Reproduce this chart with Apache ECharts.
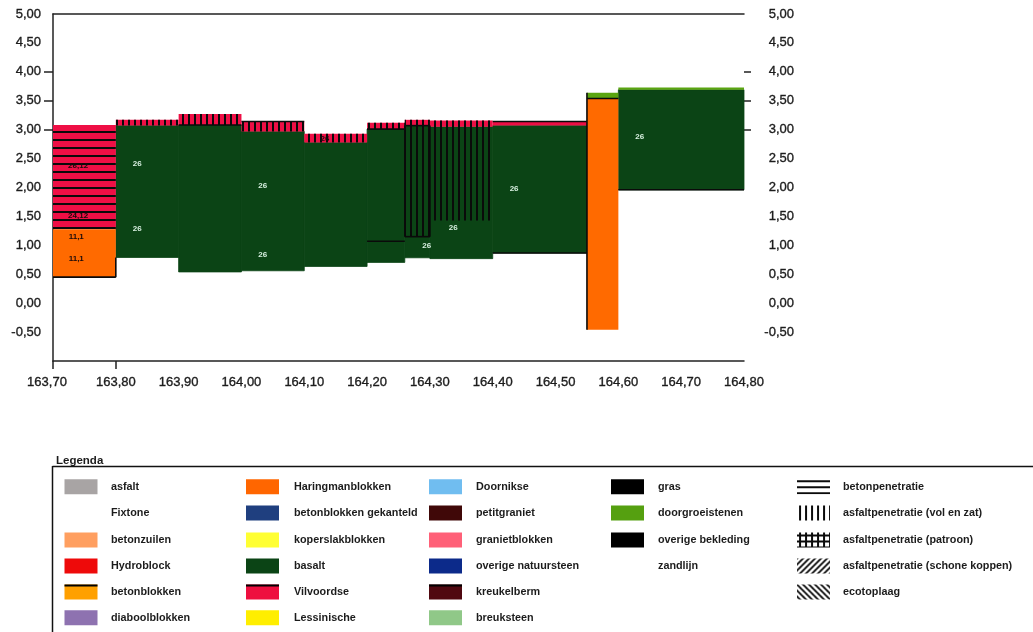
<!DOCTYPE html>
<html><head><meta charset="utf-8">
<style>html,body{margin:0;padding:0;background:#fff}#c{width:1033px;height:632px}</style>
<script src="https://cdn.jsdelivr.net/npm/echarts@6/dist/echarts.min.js"></script>
</head><body><div id="c"></div>
<script>
// ---------- data: [from km, to km, lower level, upper level]
const basalt = [
  [163.80,163.90,0.79,3.07],[163.90,164.00,0.54,3.08],[164.00,164.10,0.56,2.97],
  [164.10,164.20,0.635,2.78],[164.20,164.26,0.705,3.01],[164.26,164.30,0.785,3.07],
  [164.30,164.40,0.77,3.05],[164.40,164.55,0.867,3.07],[164.60,164.80,1.96,3.69]];
const vilvoordse = [
  [163.70,163.80,1.28,3.08],[163.80,163.90,3.07,3.17],[163.90,164.00,3.08,3.27],
  [164.00,164.10,2.97,3.14],[164.10,164.20,2.78,2.93],[164.20,164.26,3.01,3.12],
  [164.26,164.30,3.07,3.17],[164.30,164.40,3.05,3.16],[164.40,164.55,3.07,3.14]];
const haringman = [[163.70,163.80,0.45,1.28],[164.55,164.60,-0.46,3.54]];
const doorgroeistenen = [[164.55,164.60,3.54,3.64],[164.60,164.80,3.69,3.73]];
const betonpenetratie = [[163.70,163.80,1.28,3.08]];
const asfaltVol = [
  [163.80,163.90,3.07,3.17],[163.90,164.00,3.08,3.27],[164.00,164.10,2.97,3.14],
  [164.10,164.20,2.78,2.93],[164.20,164.26,3.01,3.12],[164.26,164.30,1.15,3.17],
  [164.30,164.40,1.43,3.16]];
// black outlines: [x0,y0,x1,y1]
const outlines = [
  [163.70,0.45,163.80,0.45],[163.80,0.45,163.80,0.79],[163.70,1.72,163.80,1.72],
  [163.90,3.08,164.00,3.08],[164.00,3.14,164.10,3.14],[164.20,1.07,164.26,1.07],
  [164.20,3.01,164.26,3.01],[164.26,1.15,164.30,1.15],[164.26,1.15,164.26,3.07],[164.30,1.15,164.30,3.07],
  [164.26,3.07,164.30,3.07],[164.40,3.14,164.55,3.14],[164.40,0.867,164.55,0.867],
  [164.55,-0.46,164.55,3.64],[164.55,3.54,164.60,3.54],[164.60,1.96,164.80,1.96]];
const labelX = [163.834,163.834,164.034,164.034,164.434,164.337,164.295,164.634];
const labelY = [2.41,1.29,2.03,0.84,1.98,1.30,0.99,2.875];
const labelText = ['26','26','26','26','26','26','26','26'];
const darkLabelX = [163.74,163.74,163.737,163.737,164.133];
const darkLabelY = [2.37,1.51,1.15,0.77,2.84];
const darkLabelText = ['26,12','24,12','11,1','11,1','26'];
const xLabelTicks = [163.7,163.8,163.9,164.0,164.1,164.2,164.3,164.4,164.5,164.6,164.7,164.8];
const yLabelTicks = [5,4.5,4,3.5,3,2.5,2,1.5,1,0.5,0,-0.5];
const yMarks = [4,3.5,3];
const xMarks = [163.7,163.8];
const legendCols = [
  [['asfalt','#a8a4a4'],['Fixtone',null],['betonzuilen','#ff9f60'],['Hydroblock','#ee0a0a'],['betonblokken','#ffa000','top'],['diaboolblokken','#8e72b0']],
  [['Haringmanblokken','#ff6600'],['betonblokken gekanteld','#1f3f7f'],['koperslakblokken','#ffff33'],['basalt','#0b4415'],['Vilvoordse','#ee0f3f','top'],['Lessinische','#ffee00']],
  [['Doornikse','#70bdf0'],['petitgraniet','#400808'],['granietblokken','#ff6078'],['overige natuursteen','#0c2a8a'],['kreukelberm','#500810','top'],['breuksteen','#90c888']],
  [['gras','#000000'],['doorgroeistenen','#55a010'],['overige bekleding','#000000'],['zandlijn',null]],
  [['betonpenetratie','h'],['asfaltpenetratie (vol en zat)','v'],['asfaltpenetratie (patroon)','g'],['asfaltpenetratie (schone koppen)','d1'],['ecotoplaag','d2']]
];

// ---------- styles
const FONT = '"Liberation Sans",Arial,sans-serif';
const INK = '#1c1c1c';
function pattern(kind){
  const s = kind==='hc' ? [6,8] : [6,6];
  const c = document.createElement('canvas'); c.width=s[0]; c.height=s[1];
  const g = c.getContext('2d'); g.fillStyle='#0a0a0a'; g.strokeStyle='#0a0a0a'; g.lineWidth=1.8;
  if(kind==='h') g.fillRect(0,1,6,2);
  if(kind==='hc') g.fillRect(0,3,6,2);
  if(kind==='v') g.fillRect(2,0,2,6);
  if(kind==='g'){g.fillRect(2,0,2,6);g.fillRect(0,2,6,2);}
  if(kind==='d1'){g.beginPath();g.moveTo(-1,1);g.lineTo(1,-1);g.moveTo(-1,7);g.lineTo(7,-1);g.moveTo(5,7);g.lineTo(7,5);g.stroke();}
  if(kind==='d2'){g.beginPath();g.moveTo(-1,5);g.lineTo(1,7);g.moveTo(-1,-1);g.lineTo(7,7);g.moveTo(5,-1);g.lineTo(7,1);g.stroke();}
  return {image:c,repeat:'repeat'};
}
function blocks(name,data,fill,z,seam){
  return {type:'custom',name,data,z,clip:false,silent:true,xAxisIndex:0,yAxisIndex:0,
    encode:{x:[0,1],y:[2,3]},
    renderItem(p,api){
      const a=api.coord([api.value(0),api.value(3)]), b=api.coord([api.value(1),api.value(2)]);
      const style={fill};
      if(seam){style.stroke=fill;style.lineWidth=0.8;}
      return {type:'rect',shape:{x:a[0],y:a[1],width:b[0]-a[0],height:b[1]-a[1]},style};
    }};
}
function texts(data,color,z){
  return {type:'custom',data,z,clip:false,silent:true,encode:{x:0,y:1},
    renderItem(p,api){
      const a=api.coord([api.value(0),api.value(1)]);
      return {type:'text',x:a[0],y:a[1],style:{text:data[p.dataIndex][2],fill:color,align:'center',verticalAlign:'middle',font:'bold 8px '+FONT}};
    }};
}
const fmt = v => Number(v).toFixed(2).replace('.',',');
const labelStyle = {color:INK,fontFamily:FONT,fontSize:13,textBorderColor:INK,textBorderWidth:0.35};

// ---------- legend
const legendX = [[64.5,111],[246,294],[429,476],[611,658],[797,843]];
const legendY = [486.7,513,540,566,592,617.7];
const graphics = [
  {type:'line',silent:true,shape:{x1:52.5,y1:466.5,x2:1033,y2:466.5},style:{stroke:'#111',lineWidth:1.5}},
  {type:'line',silent:true,shape:{x1:52.5,y1:466,x2:52.5,y2:632},style:{stroke:'#111',lineWidth:1.5}},
  {type:'text',silent:true,x:56,y:455,style:{text:'Legenda',fill:INK,font:'bold 11.5px '+FONT}}
];
legendCols.forEach((col,i)=>col.forEach((it,j)=>{
  const [sx,tx]=legendX[i], y=legendY[j], key=it[1];
  if(key){
    const patt=i===4;
    graphics.push({type:'rect',silent:true,x:sx,y:y-7.5,shape:{x:0,y:0,width:33,height:15},
      style:{fill:patt?pattern(key):key}});
    if(it[2]) graphics.push({type:'rect',silent:true,x:sx,y:y-7.5,shape:{x:0,y:0,width:33,height:2},style:{fill:'#000'}});
  }
  graphics.push({type:'text',silent:true,x:tx,y,style:{text:it[0],fill:INK,font:'bold 10.8px '+FONT,verticalAlign:'middle'}});
}));

// ---------- chart
const chart = echarts.init(document.getElementById('c'),null,{renderer:'canvas'});
chart.setOption({
  animation:false,
  backgroundColor:'#fff',
  grid:{left:53,right:289,top:14,bottom:271,containLabel:false},
  xAxis:[
    {type:'value',min:163.7,max:164.8,interval:0.1,position:'bottom',
     splitLine:{show:false},axisLine:{onZero:false,lineStyle:{color:'#222',width:1.5}},
     axisTick:{customValues:xMarks,length:8,inside:false,lineStyle:{color:'#222',width:1.5}},
     axisLabel:{...labelStyle,margin:15,customValues:xLabelTicks,
       formatter:v=>Math.abs(v-163.7)<1e-6?'{first|'+fmt(v)+'}':fmt(v),
       rich:{first:{...labelStyle,padding:[0,12,0,0]}}}},
    {type:'value',min:163.7,max:164.8,interval:0.1,position:'top',
     splitLine:{show:false},axisLine:{onZero:false,lineStyle:{color:'#222',width:1.5}},
     axisTick:{show:false},axisLabel:{show:false}}
  ],
  yAxis:[
    {type:'value',min:-1,max:5,interval:0.5,position:'left',
     splitLine:{show:false},axisLine:{onZero:false,lineStyle:{color:'#222',width:1.5}},
     axisTick:{customValues:yMarks,length:9,lineStyle:{color:'#222',width:1.5}},
     axisLabel:{...labelStyle,margin:12,padding:[2,0,0,0],customValues:yLabelTicks,formatter:fmt}},
    {type:'value',min:-1,max:5,interval:0.5,position:'right',
     splitLine:{show:false},axisLine:{show:false,onZero:false},
     axisTick:{customValues:yMarks,length:7,lineStyle:{color:'#222',width:1.5}},
     axisLabel:{...labelStyle,align:'right',margin:50,padding:[2,0,0,0],customValues:yLabelTicks,formatter:fmt}}
  ],
  series:[
    blocks('basalt',basalt,'#0b4415',2,true),
    blocks('Vilvoordse',vilvoordse,'#ee0f45',3),
    blocks('Haringmanblokken',haringman,'#ff6a00',3),
    blocks('doorgroeistenen',doorgroeistenen,'#5aa510',3),
    blocks('betonpenetratie',betonpenetratie,pattern('hc'),4),
    blocks('asfaltpenetratie (vol en zat)',asfaltVol,pattern('v'),4),
    {type:'custom',data:outlines,z:5,clip:false,silent:true,encode:{x:[0,2],y:[1,3]},
     renderItem(p,api){
       const a=api.coord([api.value(0),api.value(1)]), b=api.coord([api.value(2),api.value(3)]);
       return {type:'line',shape:{x1:a[0],y1:a[1],x2:b[0],y2:b[1]},style:{stroke:'#0a0a0a',lineWidth:1.6}};
     }},
    texts(labelX.map((x,i)=>[x,labelY[i],labelText[i]]),'#d8f0e0',6),
    texts(darkLabelX.map((x,i)=>[x,darkLabelY[i],darkLabelText[i]]),'#1a0a0a',6)
  ],
  graphic:graphics
});
</script></body></html>
